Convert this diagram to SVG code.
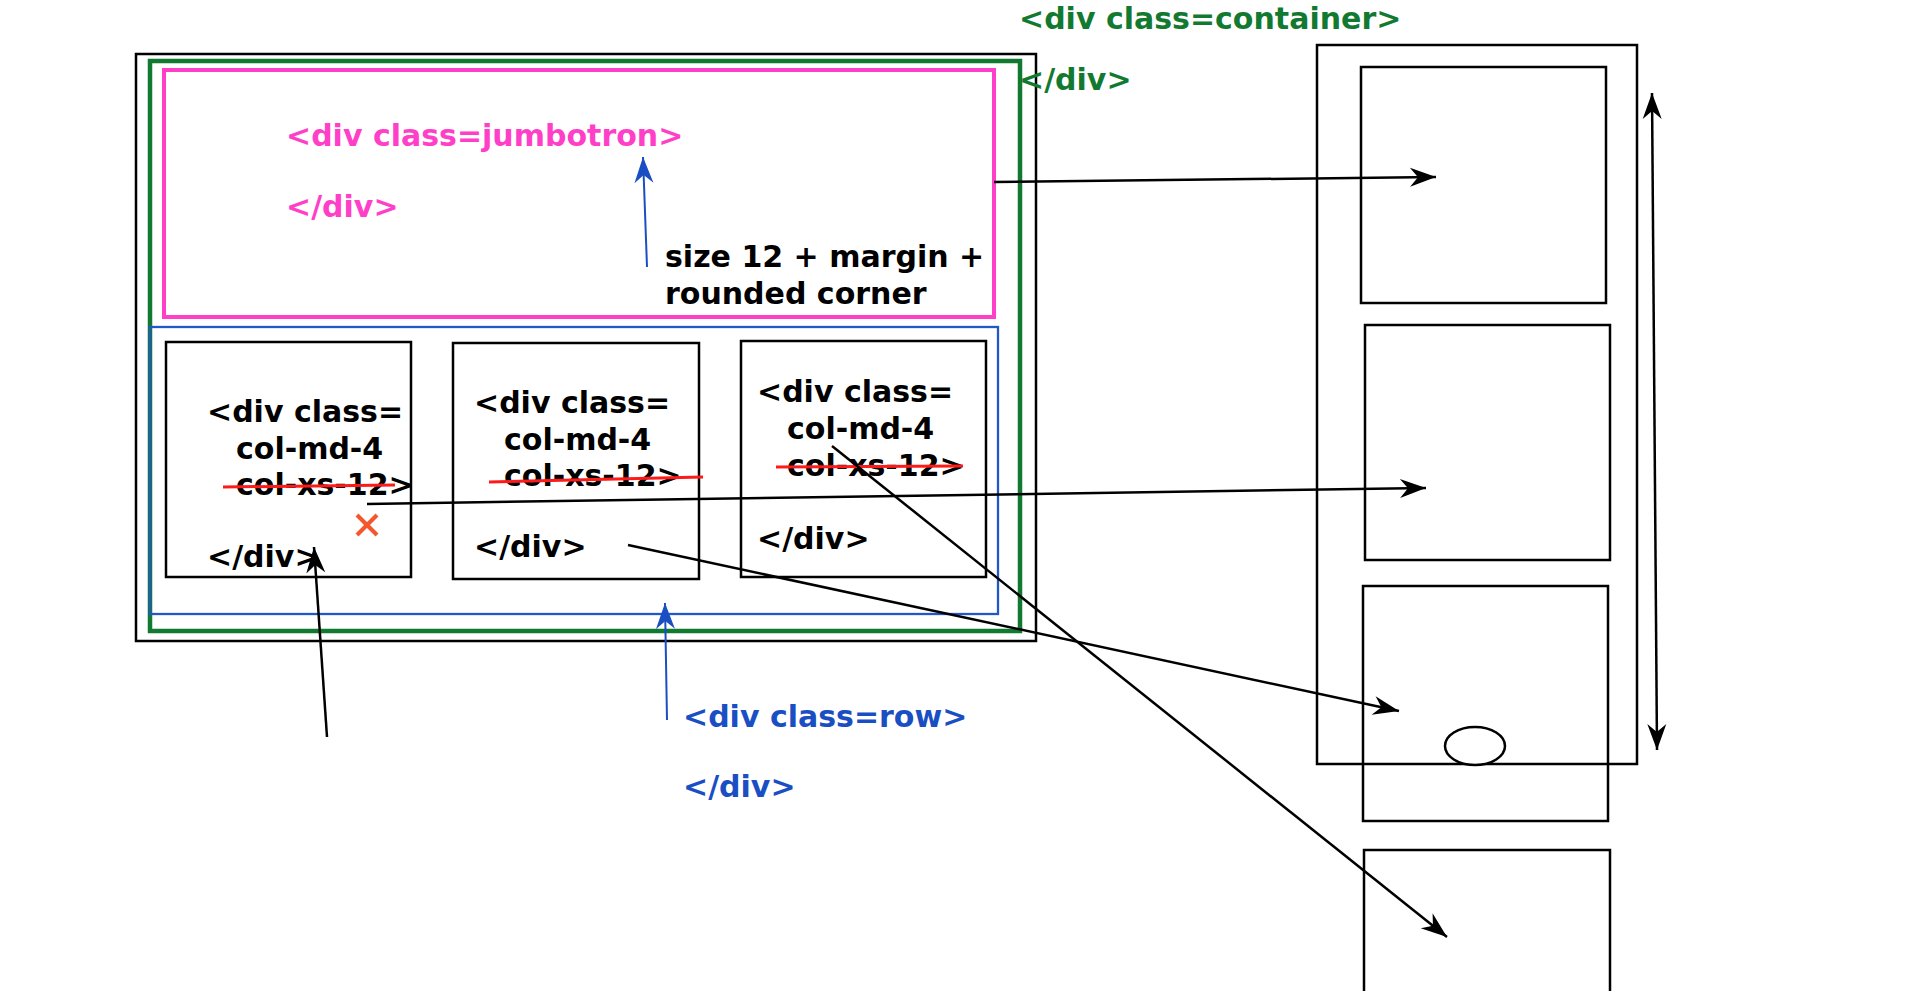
<svg xmlns="http://www.w3.org/2000/svg" width="1920" height="991" viewBox="0 0 1920 991">
<style>
.t{font-family:"DejaVu Sans","Verdana",sans-serif;font-weight:bold;font-size:30px}
.k{fill:#000}
.p{fill:#ff3fc8}
.g{fill:#127a30}
.b{fill:#1a4fc4}
.box{fill:none;stroke:#000;stroke-width:2.5}
.strike{stroke:#ff1a1a;stroke-width:3}
.c{fill:none;stroke:#000;stroke-width:2.5}
.cb{fill:none;stroke:#1a4fc4;stroke-width:2}
</style>
<defs>
<marker id="ak" markerUnits="userSpaceOnUse" markerWidth="30" markerHeight="24" viewBox="-27 -11 30 22" refX="0" refY="0" orient="auto-start-reverse">
<path d="M0,0 L-26,-9.5 L-18,0 L-26,9.5 Z" fill="#000"/>
</marker>
<marker id="ab" markerUnits="userSpaceOnUse" markerWidth="30" markerHeight="24" viewBox="-27 -11 30 22" refX="0" refY="0" orient="auto">
<path d="M0,0 L-26,-9.5 L-18,0 L-26,9.5 Z" fill="#1a4fc4"/>
</marker>
</defs>

<g id="page">
<rect x="136" y="54" width="900" height="587" class="box"/>
</g>
<g id="container">
<rect x="150" y="61" width="870" height="570" fill="none" stroke="#127a30" stroke-width="4.5"/>
<text class="t g" x="1019" y="29">&lt;div class=container&gt;</text>
<text class="t g" x="1019" y="90">&lt;/div&gt;</text>
</g>
<g id="jumbotron">
<rect x="164" y="70" width="830" height="247" fill="none" stroke="#ff3fc8" stroke-width="4"/>
<text class="t p" x="286" y="146">&lt;div class=jumbotron&gt;</text>
<text class="t p" x="286" y="217">&lt;/div&gt;</text>
</g>
<g id="jumbo-note">
<text class="t k" x="665" y="267">size 12 + margin +</text>
<text class="t k" x="665" y="304">rounded corner</text>
</g>
<g id="row">
<rect x="150" y="327" width="848" height="287" fill="none" stroke="#2158c8" stroke-width="2.3"/>
</g>
<g id="row-label">
<text class="t b" x="683" y="727">&lt;div class=row&gt;</text>
<text class="t b" x="683" y="797">&lt;/div&gt;</text>
</g>
<g id="col1">
<rect x="166" y="342" width="245" height="235" class="box"/>
<text class="t k" x="207" y="422">&lt;div class=</text>
<text class="t k" x="236" y="459">col-md-4</text>
<text class="t k" x="236" y="495">col-xs-12&gt;</text>
<text class="t k" x="207" y="567">&lt;/div&gt;</text>
<line x1="223" y1="487" x2="395" y2="485" class="strike"/>
</g>
<g id="col1-x">
<line x1="357" y1="515" x2="377" y2="535" stroke="#f4572c" stroke-width="4"/>
<line x1="377" y1="515" x2="357" y2="535" stroke="#f4572c" stroke-width="4"/>
</g>
<g id="col2">
<rect x="453" y="343" width="246" height="236" class="box"/>
<text class="t k" x="474" y="413">&lt;div class=</text>
<text class="t k" x="504" y="450">col-md-4</text>
<text class="t k" x="504" y="486">col-xs-12&gt;</text>
<text class="t k" x="474" y="557">&lt;/div&gt;</text>
<line x1="489" y1="482" x2="703" y2="477" class="strike"/>
</g>
<g id="col3">
<rect x="741" y="341" width="245" height="236" class="box"/>
<text class="t k" x="757" y="402">&lt;div class=</text>
<text class="t k" x="787" y="439">col-md-4</text>
<text class="t k" x="787" y="476">col-xs-12&gt;</text>
<text class="t k" x="757" y="549">&lt;/div&gt;</text>
<line x1="776" y1="467" x2="963" y2="466" class="strike"/>
</g>

<g id="mobile">
<rect x="1317" y="45" width="320" height="719" class="box"/>
</g>
<g id="m-box1"><rect x="1361" y="67" width="245" height="236" class="box"/></g>
<g id="m-box2"><rect x="1365" y="325" width="245" height="235" class="box"/></g>
<g id="m-box3"><rect x="1363" y="586" width="245" height="235" class="box"/></g>
<g id="m-box4"><rect x="1364" y="850" width="246" height="170" class="box"/></g>
<g id="m-button"><ellipse cx="1475" cy="746" rx="30" ry="19" fill="#fff" stroke="#000" stroke-width="2.5"/></g>

<g id="connectors">
<line x1="994" y1="182" x2="1436" y2="177" class="c" marker-end="url(#ak)"/>
<line x1="367" y1="504" x2="1426" y2="488" class="c" marker-end="url(#ak)"/>
<line x1="628" y1="545" x2="1399" y2="711" class="c" marker-end="url(#ak)"/>
<line x1="832" y1="446" x2="1447" y2="937" class="c" marker-end="url(#ak)"/>
<line x1="327" y1="737" x2="314" y2="547" class="c" marker-end="url(#ak)"/>
<line x1="647" y1="267" x2="643" y2="157" class="cb" marker-end="url(#ab)"/>
<line x1="667" y1="720" x2="665" y2="603" class="cb" marker-end="url(#ab)"/>
<line x1="1652" y1="93" x2="1657" y2="750" class="c" marker-start="url(#ak)" marker-end="url(#ak)"/>
</g>
</svg>
